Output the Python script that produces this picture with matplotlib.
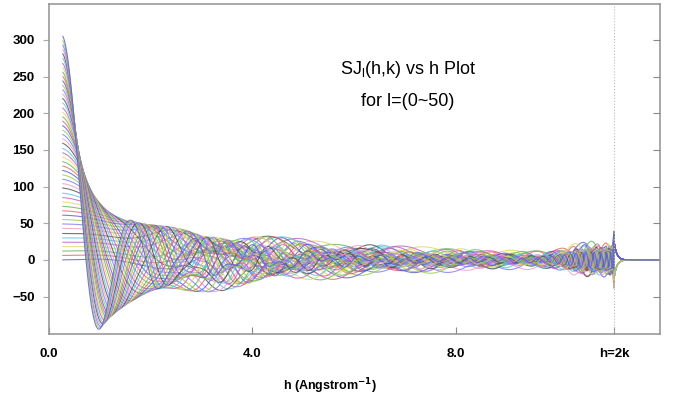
import numpy as np
import matplotlib
matplotlib.use('Agg')
import matplotlib.pyplot as plt

# ---- values ----
l_values = list(range(51))                     # l = 0 ~ 50
# level each curve sits at on the left edge (h ~ 0.28)
start_levels = [0, 6, 12, 18, 24, 30, 36, 43, 49, 55,
                61, 67, 73, 79, 85, 91, 98, 104, 110, 116,
                122, 128, 134, 140, 146, 152, 159, 165, 171, 177,
                183, 189, 195, 201, 207, 214, 220, 226, 232, 238,
                244, 250, 256, 262, 268, 275, 281, 287, 293, 299, 305]
h_first = 0.28          # first h of every curve
h_last = 12.0           # right end of the axis
h_2k = 11.1             # position of the h=2k marker
fastest_rate = 5.3      # l=50 curve reaches its first minimum (-90) at h ~ 1.0
tail_scale = 270.0      # ~ +/-22 spread of the bundle at h=2k

x_ticks = [0.0, 4.0, 8.0, h_2k]
x_tick_labels = ['0.0', '4.0', '8.0', 'h=2k']
y_ticks = [-50, 0, 50, 100, 150, 200, 250, 300]

line_colors = ['#5a5ad2', '#e06666', '#5cb85c', '#e0d860', '#c060c0',
               '#60c0e0', '#505050', '#f09ac8', '#7a7aff', '#98cc50']


def bessel_j0(x):
    tau = np.linspace(0, np.pi, 241)
    return np.trapezoid(np.cos(np.multiply.outer(x, np.sin(tau))), tau, axis=-1) / np.pi


def legendre(n, x):
    p0, p1 = np.ones_like(x), x
    if n == 0:
        return p0
    for m in range(1, n):
        p0, p1 = p1, ((2 * m + 1) * x * p1 - m * p0) / (m + 1)
    return p1


def sj_curve(l, level, h):
    d = h - h_first
    rate = fastest_rate * (level / start_levels[-1]) ** 1.3
    head = level * bessel_j0(rate * d) * np.exp(-0.07 * rate * d)
    head *= np.sqrt(np.clip(1 - (h / h_2k) ** 2, 0, None))

    inside = h < h_2k
    cos_t = np.clip(1 - h ** 2 / (2 * (h_2k / 2) ** 2), -1, 1)
    w = 1 - np.exp(-(h / 3.0) ** 4)
    boost = 1 + 2.0 * np.exp(-((h - 10.55) / 0.55) ** 2)
    tail = np.where(inside, tail_scale / h * w * boost * legendre(l + 10, cos_t), 0.0)
    # short ringing just past h=2k
    edge = tail_scale / h_2k * (-1) ** (l + 10)
    tail = np.where(inside, tail, edge * np.exp(-(h - h_2k) / 0.05))
    return head + tail


h = np.linspace(h_first, h_last, 2400)

fig = plt.figure(figsize=(6.73, 4.07), dpi=100)
ax = fig.add_axes([0.0721, 0.1794, 0.9086, 0.8108])

for l, level in zip(l_values, start_levels):
    ax.plot(h, sj_curve(l, level, h), color=line_colors[l % len(line_colors)],
            lw=0.8, alpha=0.8)

ax.axvline(h_2k, color='#bbbbbb', lw=0.8, ls=':')

ax.set_xlim(0, h_last)
ax.set_ylim(-101, 349)
ax.set_xticks(x_ticks)
ax.set_xticklabels(x_tick_labels)
ax.set_yticks(y_ticks)
ax.tick_params(axis='x', direction='in', length=5, color='#888888', pad=10)
ax.tick_params(axis='y', direction='out', length=4, color='#aaaaaa', pad=6)
for lab in ax.get_xticklabels() + ax.get_yticklabels():
    lab.set_fontfamily(['Liberation Sans', 'DejaVu Sans'])
    lab.set_fontweight('bold')
    lab.set_fontsize(9.5)
for sp in ax.spines.values():
    sp.set_color('#999999')
    sp.set_linewidth(1.2)

# inward ticks on the right-hand frame
ax_r = ax.twinx()
ax_r.set_ylim(ax.get_ylim())
ax_r.set_yticks(y_ticks)
ax_r.tick_params(axis='y', direction='in', length=5, color='#888888', labelright=False)
for sp in ax_r.spines.values():
    sp.set_visible(False)

ax.text(0.588, 0.80, r'SJ$_\mathregular{l}$(h,k) vs h Plot', transform=ax.transAxes,
        ha='center', va='center', fontsize=13, family='Liberation Sans')
ax.text(0.588, 0.706, 'for l=(0~50)', transform=ax.transAxes,
        ha='center', va='center', fontsize=13, family='Liberation Sans')

fig.text(330 / 673, 1 - 386 / 407, r'h (Angstrom$^{\mathbf{-1}}$)', ha='center',
         va='center', fontsize=9, fontweight='bold', family='Liberation Sans')

fig.savefig('out.png', dpi=100)
